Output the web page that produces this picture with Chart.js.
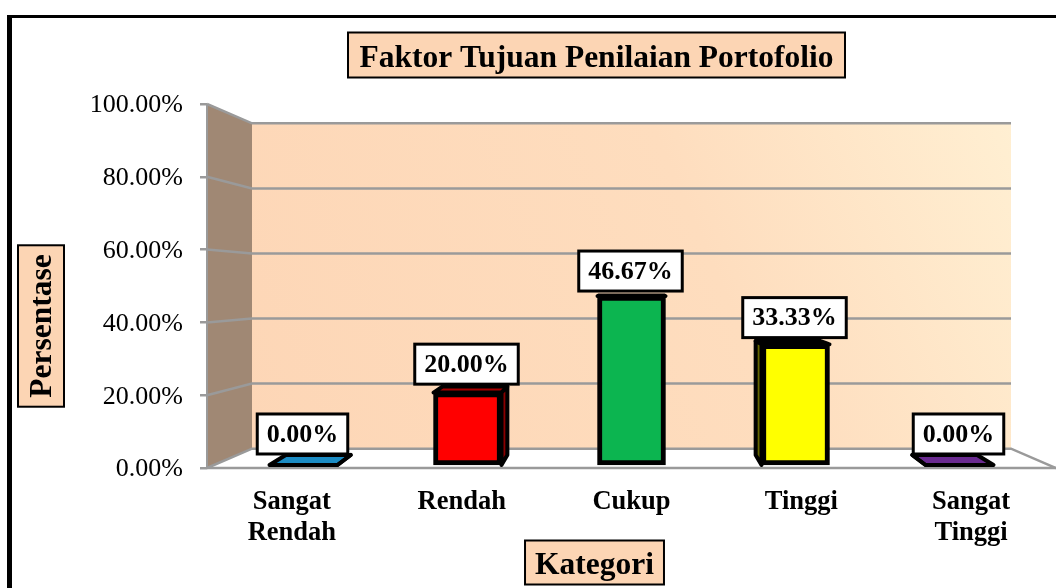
<!DOCTYPE html>
<html><head><meta charset="utf-8">
<style>html,body{margin:0;padding:0;background:#fff}canvas{display:block;filter:blur(0.45px)}</style>
<script src="https://cdn.jsdelivr.net/npm/chart.js@4"></script>
</head><body><canvas id="c" width="1056" height="588"></canvas>
<script>
const categories = [['Sangat','Rendah'],'Rendah','Cukup','Tinggi',['Sangat','Tinggi']];
const values = [0.00, 20.00, 46.67, 33.33, 0.00];
const barColors = ['#1B8CC4','#FF0000','#0CB550','#FFFF00','#6A2A90'];
const sideColors = ['#0E4A68','#8A0000','#066030','#666600','#381650'];
const topColors = ['#1B8CC4','#A80000','#0A9040','#111100','#6A2A90'];
const titleText = 'Faktor Tujuan Penilaian Portofolio';
const xTitleText = 'Kategori';
const yTitleText = 'Persentase';
const serif = '"Liberation Serif","Times New Roman",serif';
const peach = '#FCD5B4';

function box(ctx,x,y,w,h,fill,lw){
  ctx.save();ctx.fillStyle=fill;ctx.fillRect(x,y,w,h);
  ctx.strokeStyle='#000';ctx.lineWidth=lw;ctx.strokeRect(x,y,w,h);ctx.restore();
}
const scene = {
  id:'scene',
  beforeDraw(chart){
    const ctx=chart.ctx,a=chart.chartArea,y=chart.scales.y;
    ctx.save();
    ctx.fillStyle='#fff';ctx.fillRect(0,0,chart.width,chart.height);
    // frame
    ctx.fillStyle='#000';ctx.fillRect(7,15,5,chart.height-15);ctx.fillRect(7,15,chart.width-7,3);
    const vx=(a.left+a.right)/2, vy=(a.top+a.bottom)/2, f=0.106;
    const px=x=>x+(vx-x)*f, py=p=>p+(vy-p)*f;
    const bl=px(a.left),br=px(a.right),bt=py(a.top),bb=py(a.bottom);
    // back wall
    const g=ctx.createLinearGradient(bl,bb,br,bt);
    g.addColorStop(0,'#FDD6B6');g.addColorStop(0.6,'#FEDDBE');g.addColorStop(1,'#FFEFD2');
    ctx.fillStyle=g;ctx.fillRect(bl,bt,br-bl,bb-bt);
    // left wall
    ctx.fillStyle='#A08874';
    ctx.beginPath();ctx.moveTo(a.left,a.top);ctx.lineTo(bl,bt);ctx.lineTo(bl,bb);ctx.lineTo(a.left,a.bottom);ctx.closePath();ctx.fill();
    // floor
    ctx.fillStyle='#fff';
    ctx.beginPath();ctx.moveTo(a.left,a.bottom);ctx.lineTo(bl,bb);ctx.lineTo(br,bb);ctx.lineTo(a.right,a.bottom);ctx.closePath();ctx.fill();
    // gridlines
    ctx.strokeStyle='#9a9a9a';ctx.lineWidth=2.5;
    y.ticks.forEach(t=>{
      const p=y.getPixelForValue(t.value),b=py(p);
      ctx.beginPath();ctx.moveTo(a.left,p);ctx.lineTo(bl,b);ctx.lineTo(br,b);
      if(t.value===0)ctx.lineTo(a.right,p);
      ctx.stroke();
    });
    // floor front edge and wall edge
    ctx.beginPath();ctx.moveTo(a.left,a.bottom);ctx.lineTo(a.right,a.bottom);ctx.stroke();
    ctx.lineWidth=2;
    ctx.beginPath();ctx.moveTo(a.left,a.top);ctx.lineTo(a.left,a.bottom);ctx.stroke();
    ctx.restore();
    // side and top faces of the bars
    const meta=chart.getDatasetMeta(0),fx=0.045,fy=0.056;
    meta.data.forEach((bar,i)=>{
      const hw=bar.width/2,l=bar.x-hw,r=bar.x+hw,t=bar.y,bs=bar.base;
      const ox=x=>x+(vx-x)*fx, oy=p=>p+(vy-p)*fy;
      ctx.save();ctx.strokeStyle='#000';ctx.lineWidth=4;ctx.lineJoin='round';
      const poly=(pts,c)=>{ctx.fillStyle=c;ctx.beginPath();pts.forEach((q,j)=>j?ctx.lineTo(q[0],q[1]):ctx.moveTo(q[0],q[1]));ctx.closePath();ctx.fill();ctx.stroke();};
      poly([[l,t],[ox(l),oy(t)],[ox(r),oy(t)],[r,t]],topColors[i]);
      if(ox(l)<l) poly([[l,t],[ox(l),oy(t)],[ox(l),oy(bs)],[l,bs]],sideColors[i]);
      if(ox(r)>r) poly([[r,t],[ox(r),oy(t)],[ox(r),oy(bs)],[r,bs]],sideColors[i]);
      ctx.restore();
    });
  },
  afterDatasetsDraw(chart){
    const ctx=chart.ctx,meta=chart.getDatasetMeta(0);
    ctx.save();ctx.textAlign='center';ctx.textBaseline='middle';
    ctx.font='bold 26px '+serif;
    meta.data.forEach((bar,i)=>{
      const txt=values[i].toFixed(2)+'%';
      const lift=(bar.y-155)*0.0355;
      const w=ctx.measureText(txt).width+19,h=40,bottom=bar.y-lift;
      box(ctx,bar.x-1-w/2,bottom-h,w,h,'#fff',3);
      ctx.fillStyle='#000';ctx.fillText(txt,bar.x-1,bottom-h/2+1);
    });
    // title
    ctx.font='bold 31.5px '+serif;
    const tw=ctx.measureText(titleText).width+23;
    box(ctx,596.5-tw/2,32.5,tw,45,peach,2);
    ctx.fillStyle='#000';ctx.fillText(titleText,596.5,58.5);
    // x title
    const xw=ctx.measureText(xTitleText).width+20;
    box(ctx,594.5-xw/2,540.5,xw,44,peach,2);
    ctx.fillStyle='#000';ctx.fillText(xTitleText,594.5,566);
    // y title
    ctx.translate(41,326);ctx.rotate(-Math.PI/2);
    const yw=ctx.measureText(yTitleText).width+18;
    box(ctx,-yw/2,-23,yw,46,peach,2);
    ctx.fillStyle='#000';ctx.fillText(yTitleText,0,2);
    ctx.restore();
  }
};
const fitY=s=>{s.width=207};
const fitX=s=>{s.height=120};
new Chart(document.getElementById('c'),{
  type:'bar',
  data:{labels:categories,datasets:[{
    data:values.map((v,i)=>({x:i,y:v})),
    xAxisID:'barX',yAxisID:'barY',
    backgroundColor:barColors,borderColor:'#000',borderWidth:5,borderSkipped:false,
    barThickness:68,minBarLength:0
  }]},
  options:{
    responsive:false,animation:false,
    layout:{padding:{top:104,left:0,right:0,bottom:0}},
    plugins:{legend:{display:false},tooltip:{enabled:false},title:{display:false}},
    scales:{
      x:{type:'category',labels:categories,position:'bottom',afterFit:fitX,
        grid:{display:false},border:{display:false},
        ticks:{color:'#000',font:{family:serif,size:26.5,weight:'bold',lineHeight:1.15},maxRotation:0,autoSkip:false,padding:11}},
      y:{type:'linear',min:0,max:100,position:'left',afterFit:fitY,
        grid:{drawOnChartArea:false,color:'#9a9a9a',lineWidth:2.5,tickLength:7},border:{display:false},
        ticks:{stepSize:20,color:'#000',padding:17,labelOffset:1.5,font:{family:serif,size:26},callback:v=>v.toFixed(2)+'%'}},
      barX:{type:'linear',offset:false,display:false,min:2-(631.5-207)/164,max:2+(1056-631.5)/164},
      barY:{type:'linear',display:false,min:-0.83,max:99.72}
    }
  },
  plugins:[scene]
});
</script></body></html>
